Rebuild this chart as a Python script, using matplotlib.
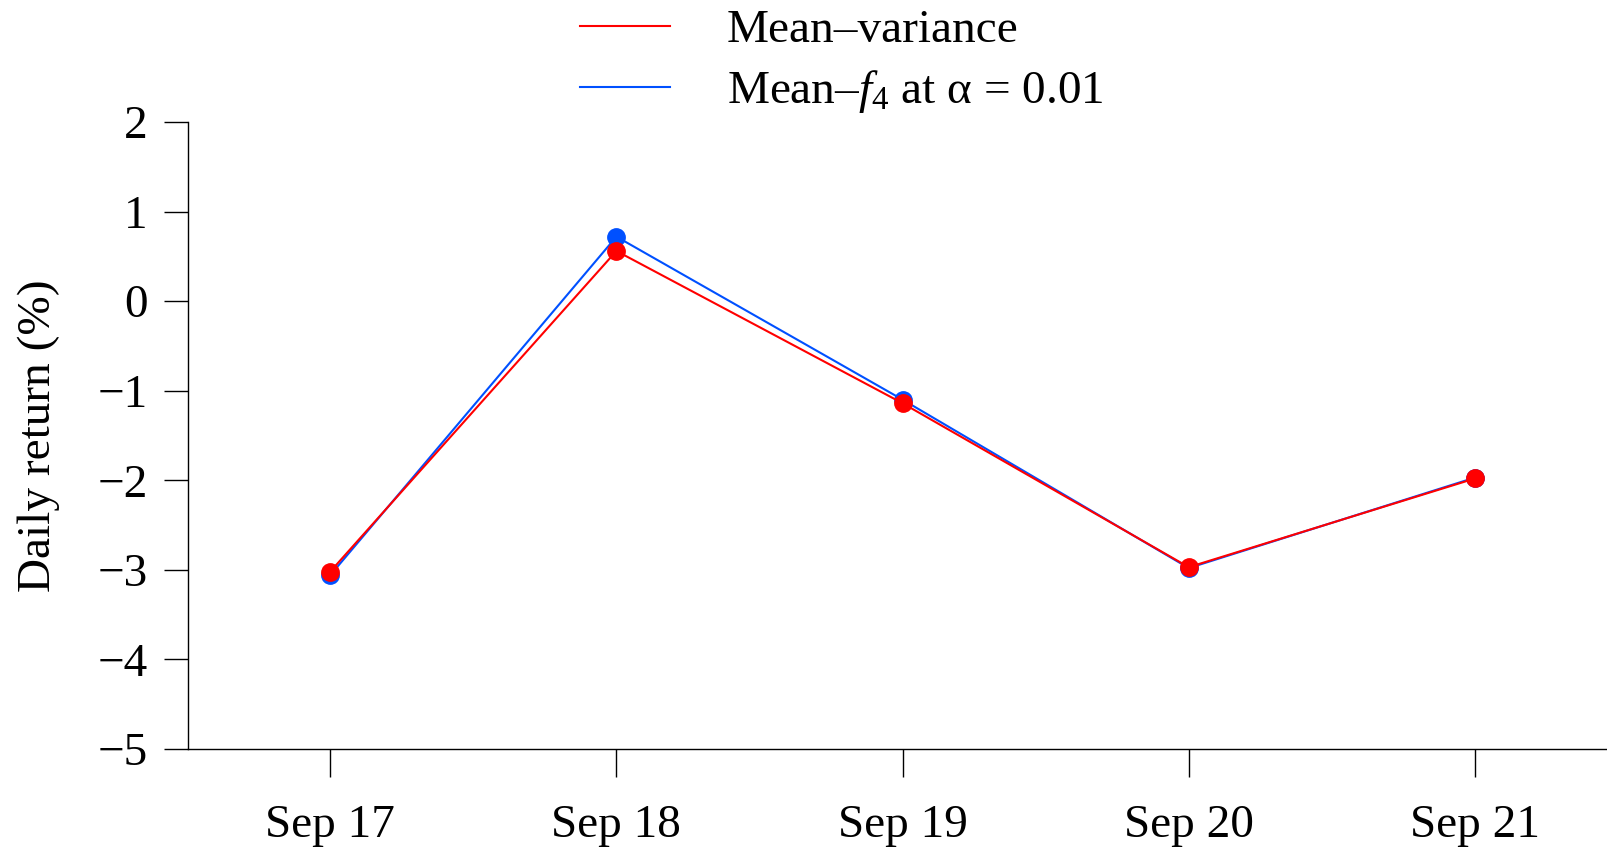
import matplotlib
matplotlib.use("Agg")
import matplotlib.pyplot as plt

# values
days = ["Sep 17", "Sep 18", "Sep 19", "Sep 20", "Sep 21"]
mean_variance = [-3.02, 0.56, -1.14, -2.97, -1.98]
mean_f4 = [-3.06, 0.72, -1.10, -2.98, -1.97]
y_ticks = [-5, -4, -3, -2, -1, 0, 1, 2]

plt.rcParams['font.family'] = ['Liberation Serif', 'DejaVu Serif']
plt.rcParams['mathtext.fontset'] = 'custom'
plt.rcParams['mathtext.rm'] = 'Liberation Serif'
plt.rcParams['mathtext.it'] = 'Liberation Serif:italic'

red = '#ff0000'
blue = '#0050ff'

fig = plt.figure(figsize=(16.08, 8.48), dpi=100)
ax = fig.add_axes([188 / 1608, 99 / 848, 1 - 188 / 1608, 627 / 848])

x = list(range(1, len(days) + 1))
# blue first so red sits on top, as in the reference
lb, = ax.plot(x, mean_f4, color=blue, lw=1.5, marker='o', ms=12.5,
              label=r'Mean–$f_4$ at α = 0.01')
lr, = ax.plot(x, mean_variance, color=red, lw=1.5, marker='o', ms=12.5,
              label='Mean–variance')

ax.set_xlim(0.503, 5.465)
ax.set_ylim(-5, 2)
ax.set_xticks(x)
ax.set_xticklabels(days)
ax.set_yticks(y_ticks)

for side in ['top', 'right']:
    ax.spines[side].set_visible(False)
ax.spines['left'].set_bounds(-5, 2)
for side in ['left', 'bottom']:
    ax.spines[side].set_linewidth(1.0)

ax.tick_params(axis='x', length=20, width=1.0, pad=20, labelsize=34)
ax.tick_params(axis='y', length=17, width=1.0, pad=12, labelsize=34)
ax.set_ylabel('Daily return (%)', fontsize=34, labelpad=27)

leg = fig.legend([lr, lb], [lr.get_label(), lb.get_label()],
                 loc='upper left', bbox_to_anchor=(538 / 1608, 1.039),
                 frameon=False, fontsize=34, handlelength=1.9,
                 handletextpad=1.2, labelspacing=0.33)
for h in leg.legend_handles:
    h.set_marker('')

fig.savefig('out.png', dpi=100)
